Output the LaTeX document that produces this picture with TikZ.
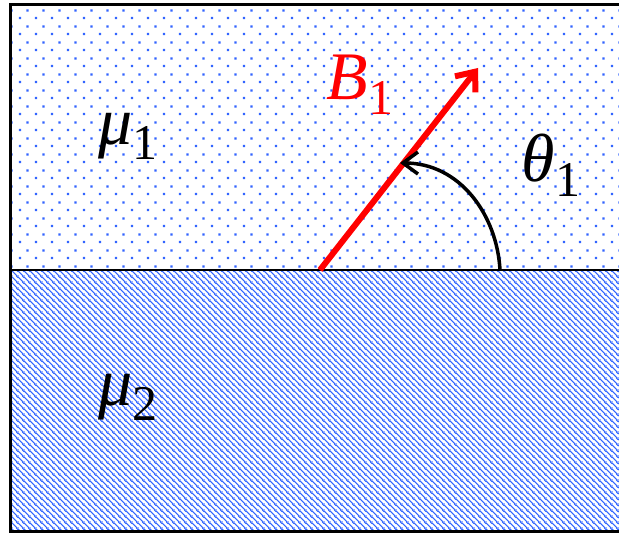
\documentclass[tikz,border=0pt]{standalone}
\usepackage{fontspec}
\setmainfont{Liberation Serif}
\usetikzlibrary{arrows.meta,patterns}
\definecolor{patblue}{RGB}{50,100,255}
\pgfdeclarepatternformonly{mydots}{\pgfpointorigin}{\pgfpoint{16pt}{16pt}}{\pgfpoint{16pt}{16pt}}{%
  \pgfpathrectangle{\pgfpoint{3pt}{3pt}}{\pgfpoint{2.4pt}{2.4pt}}%
  \pgfpathrectangle{\pgfpoint{11pt}{11pt}}{\pgfpoint{2.4pt}{2.4pt}}%
  \pgfusepath{fill}}
\pgfdeclarepatternformonly{myhatch}{\pgfpointorigin}{\pgfpoint{6pt}{6pt}}{\pgfpoint{6pt}{6pt}}{%
  \pgfsetlinewidth{1.3pt}%
  \pgfpathmoveto{\pgfpoint{-1pt}{7pt}}\pgfpathlineto{\pgfpoint{7pt}{-1pt}}%
  \pgfpathmoveto{\pgfpoint{-1pt}{1pt}}\pgfpathlineto{\pgfpoint{1pt}{-1pt}}%
  \pgfpathmoveto{\pgfpoint{5pt}{7pt}}\pgfpathlineto{\pgfpoint{7pt}{5pt}}%
  \pgfusepath{stroke}}
\newcommand{\mysub}[1]{\raisebox{-15pt}{\fontsize{50}{54}\selectfont\upshape #1}}
\tikzset{
  biglabel/.style={font=\fontsize{68}{80}\selectfont\itshape, inner sep=0pt},
  frameline/.style={line width=3pt},
  vecline/.style={red, line width=6pt, -{Straight Barb[length=16pt,width=26pt,line width=6pt]}},
  anglearrow/.style={line width=3.5pt, -{Straight Barb[length=15pt,width=22pt,line width=3.5pt]}}
}
\begin{document}
\begin{tikzpicture}[x=1pt,y=1pt]
\useasboundingbox (0,0) rectangle (619,534);
% regions
\fill[pattern=mydots, pattern color=patblue] (10,264) rectangle (619,529);
\fill[pattern=myhatch, pattern color=patblue] (10,2) rectangle (619,264);
% frame
\draw[frameline] (619,529) -- (10,529) -- (10,2) -- (619,2);
\draw[line width=2.2pt] (10,264) -- (619,264);
% coordinates
\coordinate (O) at (320,264);
\coordinate (Btip) at (478,466);
\coordinate (arcS) at (500,264);
\coordinate (arcE) at (400,371);
% vector and angle
\draw[vecline] (O) -- (Btip);
\draw[anglearrow] (arcS) .. controls (497,319) and (460,371) .. (arcE);
% labels
\node[biglabel] (mu1) at (128,398) {μ\mysub{1}};
\node[biglabel] (mu2) at (128,137) {μ\mysub{2}};
\node[biglabel, text=red] (B1) at (360,449) {B\mysub{1}};
\node[biglabel] (th1) at (551,369) {θ\mysub{1}};
\end{tikzpicture}
\end{document}
